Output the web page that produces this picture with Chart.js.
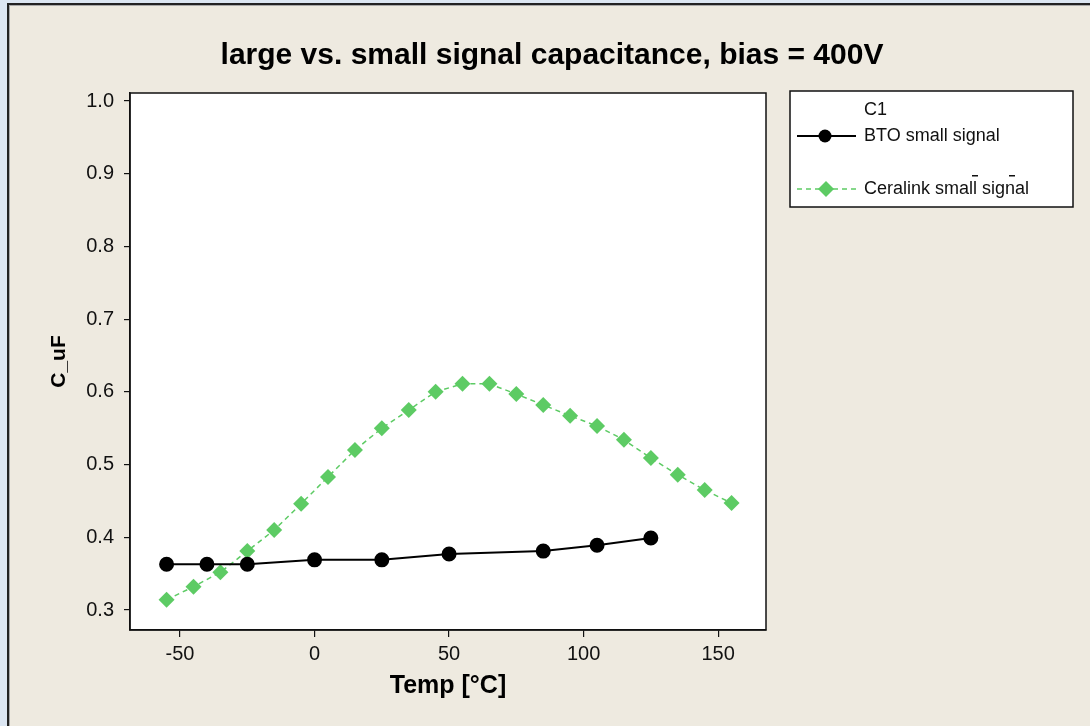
<!DOCTYPE html>
<html>
<head>
<meta charset="utf-8">
<script src="https://cdn.jsdelivr.net/npm/chart.js@4/dist/chart.umd.min.js"></script>
<style>
  html, body { margin: 0; padding: 0; background: #EEEAE0; }
  canvas { display: block; }
</style>
</head>
<body>
<canvas id="myChart" width="1090" height="726"></canvas>
<script>
// data
const btoTemp = [-55, -40, -25, 0, 25, 50, 85, 105, 125];
const btoCap = [0.363, 0.363, 0.363, 0.369, 0.369, 0.377, 0.381, 0.389, 0.399];

const ceraTemp = [-55, -45, -35, -25, -15, -5, 5, 15, 25, 35, 45, 55, 65, 75, 85, 95, 105, 115, 125, 135, 145, 155];
const ceraCap = [0.314, 0.332, 0.352, 0.381, 0.410, 0.446, 0.483, 0.520, 0.550, 0.575, 0.600, 0.611,
  0.611, 0.597, 0.582, 0.567, 0.553, 0.534, 0.509, 0.486, 0.465, 0.447];

const xTicks = [-50, 0, 50, 100, 150];
const yTicks = [0.3, 0.4, 0.5, 0.6, 0.7, 0.8, 0.9, 1.0];

const titleText = 'large vs. small signal capacitance, bias = 400V';
const legendTitle = 'C1';

const green = '#5DCB64';
const fontFam = '"Liberation Sans", Arial, sans-serif';

// background, window border, white plot area, title, legend
const bgPlugin = {
  id: 'bg',
  beforeDraw(chart) {
    const ctx = chart.ctx;
    const a = chart.chartArea;
    ctx.save();
    ctx.fillStyle = '#EEEAE0';
    ctx.fillRect(0, 0, chart.width, chart.height);
    ctx.fillStyle = '#DCE6F2';
    ctx.fillRect(0, 0, 7, chart.height);
    ctx.fillRect(0, 0, chart.width, 3);
    ctx.fillStyle = '#222';
    ctx.fillRect(7, 3, 2, chart.height);
    ctx.fillRect(7, 3, chart.width, 2);
    ctx.fillStyle = '#A8A8A8';
    ctx.fillRect(9, 5, 1, chart.height);
    ctx.fillRect(9, 5, chart.width, 1);
    ctx.fillStyle = '#fff';
    ctx.fillRect(a.left, a.top, a.right - a.left, a.bottom - a.top);

    // title
    ctx.fillStyle = '#000';
    ctx.font = 'bold 30px ' + fontFam;
    ctx.textAlign = 'center';
    ctx.textBaseline = 'alphabetic';
    ctx.fillText(titleText, 552, 64);
    ctx.restore();
  },
  afterDraw(chart) {
    const ctx = chart.ctx;
    const a = chart.chartArea;
    ctx.save();
    ctx.strokeStyle = '#111';
    ctx.lineWidth = 1.5;
    ctx.strokeRect(a.left, a.top, a.right - a.left, a.bottom - a.top);

    // legend box
    const lx = 790, ly = 91, lw = 283, lh = 116;
    ctx.fillStyle = '#fff';
    ctx.fillRect(lx, ly, lw, lh);
    ctx.strokeStyle = '#111';
    ctx.lineWidth = 1.5;
    ctx.strokeRect(lx, ly, lw, lh);
    ctx.fillStyle = '#111';
    ctx.font = '18px ' + fontFam;
    ctx.textBaseline = 'middle';
    ctx.fillText(legendTitle, 864, 110);

    const rows = [136, 189];
    chart.data.datasets.forEach((ds, i) => {
      const y = rows[i];
      ctx.strokeStyle = ds.borderColor;
      ctx.lineWidth = ds.borderWidth;
      ctx.setLineDash(ds.borderDash || []);
      ctx.beginPath();
      ctx.moveTo(797, y);
      ctx.lineTo(856, y);
      ctx.stroke();
      ctx.setLineDash([]);
      ctx.fillStyle = ds.pointBackgroundColor;
      ctx.beginPath();
      if (ds.pointStyle === 'rectRot') {
        const r = ds.pointRadius;
        ctx.moveTo(826, y - r); ctx.lineTo(826 + r, y); ctx.lineTo(826, y + r); ctx.lineTo(826 - r, y);
        ctx.closePath();
      } else {
        ctx.arc(825, y, ds.pointRadius, 0, Math.PI * 2);
      }
      ctx.fill();
      ctx.fillStyle = '#111';
      ctx.fillText(ds.label, 864, y);
    });
    // little stray marks seen in the legend
    ctx.fillRect(972, 175, 6, 1.5);
    ctx.fillRect(1009, 175, 6, 1.5);
    ctx.restore();
  }
};

const canvas = document.getElementById('myChart');
const ctx = canvas.getContext('2d');

const chart = new Chart(ctx, {
  type: 'line',
  data: {
    datasets: [{
      label: 'BTO small signal',
      data: btoTemp.map((t, i) => ({ x: t, y: btoCap[i] })),
      borderColor: '#000',
      backgroundColor: '#000',
      pointBackgroundColor: '#000',
      pointBorderColor: '#000',
      borderWidth: 2,
      pointRadius: 6.5,
      pointStyle: 'circle',
      tension: 0
    }, {
      label: 'Ceralink small signal',
      data: ceraTemp.map((t, i) => ({ x: t, y: ceraCap[i] })),
      borderColor: green,
      backgroundColor: green,
      pointBackgroundColor: green,
      pointBorderColor: green,
      borderWidth: 1.5,
      borderDash: [5, 4],
      pointRadius: 8,
      pointBorderWidth: 0,
      pointStyle: 'rectRot',
      tension: 0
    }]
  },
  options: {
    responsive: false,
    animation: false,
    layout: { padding: { left: 0, right: 324, top: 93, bottom: 0 } },
    plugins: {
      legend: { display: false },
      tooltip: { enabled: false },
      title: { display: false }
    },
    scales: {
      x: {
        type: 'linear',
        min: -68.6,
        max: 167.8,
        afterFit(scale) { scale.height = 96; },
        afterBuildTicks(scale) { scale.ticks = xTicks.map(v => ({ value: v })); },
        grid: { display: true, drawOnChartArea: false, drawTicks: true, tickLength: 7, color: '#111', lineWidth: 1.2 },
        border: { display: true, color: '#111', width: 1.5 },
        ticks: { color: '#111', padding: 5, font: { family: fontFam, size: 20 }, callback: v => String(v) },
        title: {
          display: true,
          text: 'Temp [°C]',
          color: '#000',
          font: { family: fontFam, size: 25, weight: 'bold' },
          padding: { top: 0, bottom: 25 }
        }
      },
      y: {
        type: 'linear',
        min: 0.2725,
        max: 1.011,
        afterFit(scale) { scale.width = 130; },
        afterBuildTicks(scale) { scale.ticks = yTicks.map(v => ({ value: v })); },
        grid: { display: true, drawOnChartArea: false, drawTicks: true, tickLength: 6, color: '#111', lineWidth: 1.2 },
        border: { display: true, color: '#111', width: 1.5 },
        ticks: { color: '#111', padding: 10, font: { family: fontFam, size: 20 }, callback: v => v.toFixed(1) },
        title: {
          display: true,
          text: 'C_uF',
          color: '#000',
          font: { family: fontFam, size: 21, weight: 'bold' },
          padding: { top: 47, bottom: 0 }
        }
      }
    }
  },
  plugins: [bgPlugin]
});
</script>
</body>
</html>
